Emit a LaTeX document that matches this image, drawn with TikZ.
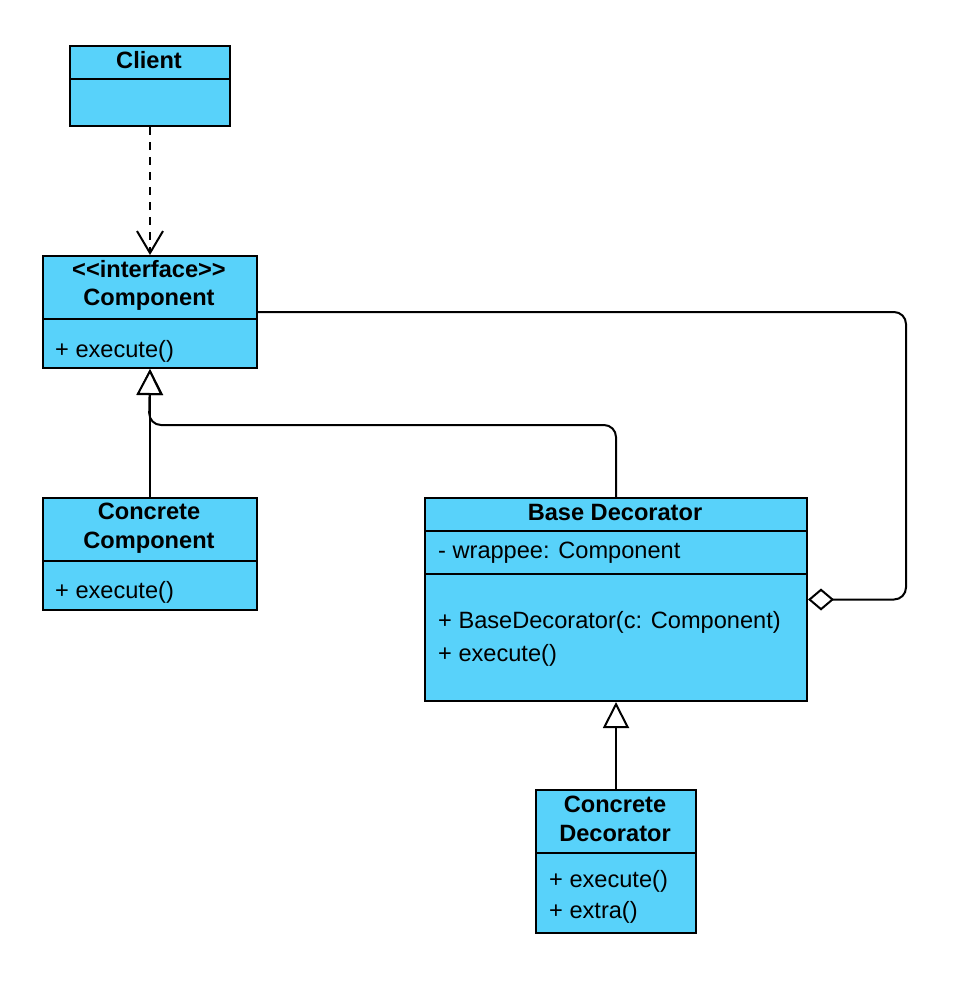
\documentclass[tikz,border=0pt]{standalone}
\usepackage{fontspec}
\setmainfont{Liberation Sans}
\usepackage{tikz}
\usetikzlibrary{arrows.meta}
\definecolor{classblue}{RGB}{88,210,250}

\begin{document}
\begin{tikzpicture}[
  x=1pt, y=-1pt,
  font=\fontsize{23.6}{28}\selectfont,
  cls/.style={rectangle, draw=black, fill=classblue, line width=2pt, anchor=north west, inner sep=0pt},
  title/.style={font=\fontsize{23.6}{29}\selectfont\bfseries, align=center, inner sep=0pt},
  member/.style={anchor=west, align=left, inner sep=0pt},
  divider/.style={line width=2pt},
  gen/.style={line width=2pt, -{Triangle[length=26pt, width=26pt, fill=white, line width=2pt]}},
  dep/.style={line width=2pt, dash pattern=on 8pt off 7pt, -{Straight Barb[length=22pt, width=26pt, line width=2pt]}},
  agg/.style={line width=2pt, rounded corners=12pt, -{Diamond[length=26pt, width=22pt, fill=white, line width=2pt]}}
]
\useasboundingbox (0,0) rectangle (970,990);

% Classes
\node (client) [cls, minimum width=160pt, minimum height=80pt] at (69,45) {};
\node (comp) [cls, minimum width=214pt, minimum height=112pt] at (42,255) {};
\node (ccomp) [cls, minimum width=214pt, minimum height=112pt] at (42,497) {};
\node (base) [cls, minimum width=382pt, minimum height=203pt] at (424,497) {};
\node (cdeco) [cls, minimum width=160pt, minimum height=143pt] at (535,789) {};

% Compartments
\draw [divider] (client.west |- 0,79) -- (client.east |- 0,79);
\draw [divider] (comp.west |- 0,319) -- (comp.east |- 0,319);
\draw [divider] (ccomp.west |- 0,561) -- (ccomp.east |- 0,561);
\draw [divider] (base.west |- 0,531) -- (base.east |- 0,531);
\draw [divider] (base.west |- 0,574) -- (base.east |- 0,574);
\draw [divider] (cdeco.west |- 0,853) -- (cdeco.east |- 0,853);

% Texts
\node (clientname) [title] at (149,60) {Client};
\node (compname) [title, font=\fontsize{23.6}{28}\selectfont\bfseries] at (149,285.5) {<\kern0pt<interface>\kern0pt>\\Component};
\node (compops) [member] at (55,351) {+ execute()};
\node (ccompname) [title] at (149,528) {Concrete\\Component};
\node (ccompops) [member] at (55,592) {+ execute()};
\node (basename) [title] at (615,512) {Base Decorator};
\node (basefields) [member] at (438,553) {- wrappee: Component};
\node (baseops) [member, font=\fontsize{23.6}{33}\selectfont] at (438,639) {+ BaseDecorator(c: Component)\\+ execute()};
\node (cdeconame) [title] at (615,819) {Concrete\\Decorator};
\node (cdecoops) [member, font=\fontsize{23.6}{31}\selectfont] at (549,897) {+ execute()\\+ extra()};

% Relations
\coordinate (bend) at (149,425);
\coordinate (loop) at (base.east -| 906,0);
\draw [dep] (client) -- (comp);
\draw [gen] (ccomp) -- (comp);
\draw [gen, rounded corners=12pt] (base.north) |- (bend) -- (comp.south);
\draw [gen] (cdeco) -- (base);
\draw [agg] (comp.east) -| (loop) -- (base.east);
\end{tikzpicture}
\end{document}
